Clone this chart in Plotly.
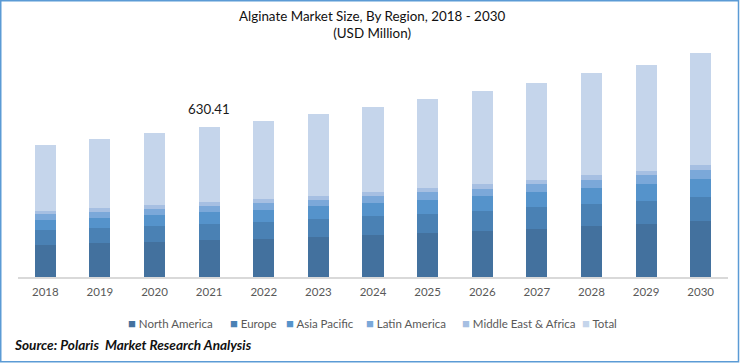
import plotly.graph_objects as go

years = ["2018", "2019", "2020", "2021", "2022", "2023", "2024", "2025", "2026", "2027", "2028", "2029", "2030"]
north_america = [269, 286, 294, 311.0, 319, 338, 353, 370, 387, 403, 429, 445, 471]
europe = [126, 126, 134, 134.5, 143, 151, 160, 160, 168, 185, 185, 193, 202]
asia_pacific = [84, 84, 92, 100.9, 101, 109, 109, 118, 126, 126, 134, 143, 151]
latin_america = [50, 50, 50, 50.4, 59, 52, 59, 67, 59, 67, 67, 76, 76]
middle_east_africa = [25, 34, 34, 33.61, 34, 35, 34, 34, 42, 34, 42, 34, 42]
total = [554, 580, 604, 630.41, 656, 685, 715, 749, 782, 815, 857, 891, 942]

series_names = ["North America", "Europe", "Asia Pacific", "Latin America", "Middle East & Africa", "Total"]
series_values = [north_america, europe, asia_pacific, latin_america, middle_east_africa, total]
colors = ["#43719E", "#4A81B4", "#5593CB", "#7BA8D9", "#A6BFE2", "#C5D5EB"]

label_year = "2021"

fig = go.Figure()
for name, vals, col in zip(series_names, series_values, colors):
    fig.add_trace(go.Bar(x=years, y=vals, name=name, marker=dict(color=col, line=dict(width=0)),
                         hoverinfo="x+y+name", showlegend=False))

idx = years.index(label_year)
stack_top = sum(v[idx] for v in series_values)
fig.add_annotation(x=idx, y=stack_top, text=f"{total[idx]:.2f}", showarrow=False,
                   yanchor="bottom", yshift=8, font=dict(family="Lato, sans-serif", size=13.3, color="#1a1a1a"))

# layout geometry
W, H = 740, 363
ml, mr, mt, mb = 18, 12, 45, 86
pw, ph = W - ml - mr, H - mt - mb

def px_to_paper(xp, yp):
    return (xp - ml) / pw, (H - mb - yp) / ph

x0, y0 = px_to_paper(0.75, 361.75)
x1, y1 = px_to_paper(738.5, 0.75)
fig.add_shape(type="rect", xref="paper", yref="paper", x0=x0, y0=y0, x1=x1, y1=y1,
              line=dict(color="#5B9BD5", width=1.5), fillcolor="rgba(0,0,0,0)", layer="below")

fig.add_annotation(xref="paper", yref="paper", x=px_to_paper(372, 0)[0], y=px_to_paper(0, 24)[1],
                   text="Alginate Market Size, By Region, 2018 - 2030<br>(USD Million)",
                   showarrow=False, xanchor="center", yanchor="middle",
                   font=dict(family="Lato, sans-serif", size=13.4, color="#111111"))

fig.add_annotation(xref="paper", yref="paper", x=px_to_paper(12, 0)[0], y=px_to_paper(0, 345)[1],
                   text="<b><i>Source: Polaris  Market Research Analysis</i></b>",
                   showarrow=False, xanchor="left", yanchor="middle",
                   font=dict(family="Lato, sans-serif", size=13.6, color="#111111"))

# legend drawn as text entries
legend_x = [126, 228, 284, 364, 460, 580]
for name, col, lx in zip(series_names, colors, legend_x):
    fig.add_annotation(xref="paper", yref="paper", x=px_to_paper(lx, 0)[0], y=px_to_paper(0, 323)[1],
                       text=f"<span style='color:{col};font-size:13px'>■</span> {name}",
                       showarrow=False, xanchor="left", yanchor="middle",
                       font=dict(family="Lato, sans-serif", size=11.5, color="#595959"))

fig.update_layout(
    width=W, height=H,
    margin=dict(l=ml, r=mr, t=mt, b=mb),
    barmode="stack", bargap=0.615,
    plot_bgcolor="white", paper_bgcolor="white",
    showlegend=False,
    xaxis=dict(type="category", range=[-0.5, len(years) - 0.5], showline=True, linecolor="#D9D9D9",
               linewidth=1.5, ticks="", ticklabelstandoff=3,
               tickfont=dict(family="Lato, sans-serif", size=11.5, color="#595959"), showgrid=False),
    yaxis=dict(range=[0, 1950], visible=False, showgrid=False, zeroline=False),
)

fig.write_html("out.html", config={"displayModeBar": False},
               post_script="document.body.style.margin='0';")
